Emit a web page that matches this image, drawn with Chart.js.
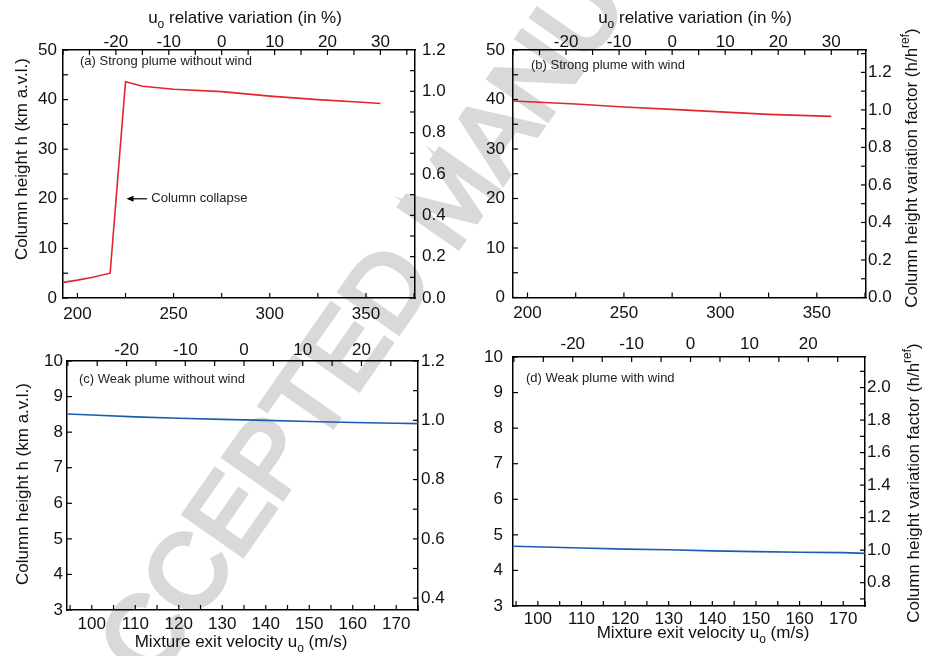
<!DOCTYPE html>
<html>
<head>
<meta charset="utf-8">
<script src="https://cdn.jsdelivr.net/npm/chart.js@4.4.1/dist/chart.umd.min.js"></script>
<style>
  html, body { margin: 0; padding: 0; background: #fff; }
  #wrap { position: relative; width: 925px; height: 656px; overflow: hidden; }
  #wrap canvas { position: absolute; left: 0; top: 0; }
</style>
</head>
<body>
<div id="wrap">
  <canvas id="pa" width="925" height="656"></canvas>
  <canvas id="pb" width="925" height="656"></canvas>
  <canvas id="pc" width="925" height="656"></canvas>
  <canvas id="pd" width="925" height="656"></canvas>
</div>
<script>
// =============== DATA ===============
// (a) strong plume without wind
const uA = [192.5, 200, 208, 217, 225, 234, 250, 275, 300, 325, 350, 357.5];
const hA = [3.15, 3.6, 4.2, 5.0, 43.6, 42.7, 42.1, 41.6, 40.7, 40.0, 39.4, 39.2];
// (b) strong plume with wind
const uB = [192.5, 225, 250, 275, 300, 325, 357.5];
const hB = [39.7, 39.1, 38.5, 38.0, 37.5, 37.0, 36.6];
// (c) weak plume without wind
const uC = [94.5, 100, 110, 120, 130, 140, 150, 160, 170, 175];
const hC = [8.51, 8.48, 8.43, 8.39, 8.36, 8.33, 8.30, 8.27, 8.25, 8.24];
// (d) weak plume with wind
const uD = [94.5, 110, 120, 130, 140, 150, 160, 170, 175];
const hD = [4.68, 4.63, 4.60, 4.58, 4.55, 4.53, 4.51, 4.50, 4.48];

// tick labels
const uTicksStrong = [200, 250, 300, 350];
const uTicksWeak = [100, 110, 120, 130, 140, 150, 160, 170];
const pctTicksStrong = [-20, -10, 0, 10, 20, 30];
const pctTicksWeak = [-20, -10, 0, 10, 20];
const hTicksStrong = [0, 10, 20, 30, 40, 50];
const hTicksWeak = [3, 4, 5, 6, 7, 8, 9, 10];
const fTicksA = [0, 0.2, 0.4, 0.6, 0.8, 1.0, 1.2];
const fTicksB = [0, 0.2, 0.4, 0.6, 0.8, 1.0, 1.2];
const fTicksC = [0.4, 0.6, 0.8, 1.0, 1.2];
const fTicksD = [0.8, 1.0, 1.2, 1.4, 1.6, 1.8, 2.0];

// reference velocity / reference height for the secondary axes
const uRefStrong = 275, uRefWeak = 135;
const hRefA = 41.67, hRefB = 37.9, hRefC = 8.333, hRefD = 4.57;

const FONT = "'Liberation Sans', Arial, Helvetica, sans-serif";
const RED = '#e3262b', BLUE = '#1b5cae';

// ----- rich text (sub / superscripts) -----
function richText(ctx, parts, x, y, rot) {
  ctx.save();
  ctx.translate(x, y);
  ctx.rotate(rot || 0);
  const big = '17px ' + FONT, small = '12px ' + FONT;
  let total = 0;
  parts.forEach(p => { ctx.font = p[1] ? small : big; total += ctx.measureText(p[0]).width; });
  let cx = -total / 2;
  ctx.fillStyle = '#111';
  ctx.textAlign = 'left';
  ctx.textBaseline = 'alphabetic';
  parts.forEach(p => {
    ctx.font = p[1] ? small : big;
    const dy = p[1] === 'sub' ? 5 : p[1] === 'sup' ? -8 : 0;
    ctx.fillText(p[0], cx, dy);
    cx += ctx.measureText(p[0]).width;
  });
  ctx.restore();
}

// ----- watermark, behind everything -----
function drawWatermark(ctx) {
  ctx.save();
  ctx.translate(112, 742);
  ctx.rotate(-55 * Math.PI / 180);
  ctx.font = '104px ' + FONT;
  ctx.fillStyle = '#d9d9d9';
  ctx.strokeStyle = '#d9d9d9';
  ctx.lineWidth = 5;
  ctx.lineJoin = 'miter';
  ctx.textAlign = 'left';
  ctx.textBaseline = 'alphabetic';
  ctx.fillText('ACCEPTED MANUSCRIPT', 0, 0);
  ctx.strokeText('ACCEPTED MANUSCRIPT', 0, 0);
  ctx.restore();
}

const titleTop = [['u'], ['o', 'sub'], [' relative variation (in %)']];
const titleLeft = [['Column height h (km a.v.l.)']];
const titleRight = [['Column height variation factor (h/h'], ['ref', 'sup'], [')']];
const titleBottom = [['Mixture exit velocity u'], ['o', 'sub'], [' (m/s)']];

// per-panel decorations
const decoCfg = {
  pa: { watermark: true, label: '(a) Strong plume without wind', ldx: 17, ldy: 15,
        marks: { x: 25, x2: 5, y: 5, y2: 0.1 },
        titles: [[titleTop, 245, 23, 0], [titleLeft, 26.5, 159, -Math.PI / 2]],
        arrow: { from: 236.2, to: 225.5, h: 20, text: 'Column collapse', tx: 238.4 } },
  pb: { label: '(b) Strong plume with wind', ldx: 18, ldy: 19,
        marks: { x: 25, x2: 5, y: 5, y2: 0.1 },
        titles: [[titleTop, 695, 23, 0], [titleRight, 917, 168, -Math.PI / 2]] },
  pc: { label: '(c) Weak plume without wind', ldx: 12, ldy: 22,
        marks: { x: 5, x2: 5, y: 1, y2: 0.1 },
        titles: [[titleLeft, 28, 484, -Math.PI / 2], [titleBottom, 241, 647, 0]] },
  pd: { label: '(d) Weak plume with wind', ldx: 13, ldy: 25,
        marks: { x: 5, x2: 5, y: 1, y2: 0.1 },
        titles: [[titleRight, 919, 483, -Math.PI / 2], [titleBottom, 703, 638, 0]] }
};

const deco = {
  id: 'deco',
  beforeDraw(chart) {
    const o = decoCfg[chart.canvas.id];
    if (o && o.watermark) drawWatermark(chart.ctx);
  },
  afterDraw(chart) {
    const o = decoCfg[chart.canvas.id];
    if (!o) return;
    const ctx = chart.ctx, a = chart.chartArea;
    // inward tick marks
    ctx.save();
    ctx.strokeStyle = '#000';
    ctx.lineWidth = 1.2;
    Object.keys(o.marks).forEach(id => {
      const s = chart.scales[id], step = o.marks[id];
      const start = Math.ceil(s.min / step - 1e-6);
      for (let k = start; k * step <= s.max + 1e-6; k++) {
        const px = s.getPixelForValue(k * step);
        ctx.beginPath();
        if (id === 'x') { ctx.moveTo(px, a.bottom); ctx.lineTo(px, a.bottom - 5); }
        if (id === 'x2') { ctx.moveTo(px, a.top); ctx.lineTo(px, a.top + 5); }
        if (id === 'y') { ctx.moveTo(a.left, px); ctx.lineTo(a.left + 5, px); }
        if (id === 'y2') { ctx.moveTo(a.right, px); ctx.lineTo(a.right - 5, px); }
        ctx.stroke();
      }
    });
    ctx.restore();
    // panel label
    ctx.save();
    ctx.font = '13px ' + FONT;
    ctx.fillStyle = '#222';
    ctx.textAlign = 'left';
    ctx.textBaseline = 'alphabetic';
    ctx.fillText(o.label, a.left + o.ldx, a.top + o.ldy);
    // annotation arrow
    if (o.arrow) {
      const x = chart.scales.x, y = chart.scales.y;
      const x0 = x.getPixelForValue(o.arrow.from), x1 = x.getPixelForValue(o.arrow.to);
      const py = y.getPixelForValue(o.arrow.h);
      ctx.strokeStyle = '#000';
      ctx.lineWidth = 1.2;
      ctx.beginPath(); ctx.moveTo(x0, py); ctx.lineTo(x1 + 4, py); ctx.stroke();
      ctx.beginPath(); ctx.moveTo(x1, py); ctx.lineTo(x1 + 7, py - 3); ctx.lineTo(x1 + 7, py + 3); ctx.closePath();
      ctx.fillStyle = '#000'; ctx.fill();
      ctx.fillStyle = '#222';
      ctx.textBaseline = 'middle';
      ctx.fillText(o.arrow.text, x.getPixelForValue(o.arrow.tx), py);
    }
    ctx.restore();
    o.titles.forEach(t => richText(ctx, t[0], t[1], t[2], t[3]));
  }
};

// ----- axis helper -----
function axis(position, ticks, fmt, size, pad, min, max) {
  return {
    type: 'linear', position, min, max,
    grid: { display: false, drawTicks: false },
    border: { display: true, color: '#000', width: 1.5 },
    ticks: { font: { family: FONT, size: 17 }, color: '#111', padding: pad,
             autoSkip: false, maxRotation: 0, callback: fmt },
    afterBuildTicks: s => { s.ticks = ticks.map(v => ({ value: v })); },
    afterFit: s => {
      if (position === 'left' || position === 'right') s.width = size; else s.height = size;
    }
  };
}

const fmt0 = v => String(v);
const fmt1 = v => Number(v).toFixed(1);

function makePanel(id, p) {
  const b = p.box; // left, top, right, bottom (page px)
  new Chart(document.getElementById(id), {
    type: 'line',
    data: { datasets: [{
      data: p.u.map((u, i) => ({ x: u, y: p.h[i] })),
      borderColor: p.color, borderWidth: 1.6, pointRadius: 0, fill: false, tension: 0
    }] },
    options: {
      responsive: false, animation: false, events: [],
      layout: { padding: 0 },
      plugins: { legend: { display: false }, tooltip: { enabled: false } },
      scales: {
        x: axis('bottom', p.uTicks, fmt0, 656 - b[3], p.pad[3], p.xMin, p.xMax),
        x2: axis('top', p.pTicks, fmt0, b[1], p.pad[1], (p.xMin / p.uRef - 1) * 100, (p.xMax / p.uRef - 1) * 100),
        y: axis('left', p.hTicks, fmt0, b[0], p.pad[0], p.yMin, p.yMax),
        y2: axis('right', p.fTicks, fmt1, 925 - b[2], p.pad[2], p.yMin / p.hRef, p.yMax / p.hRef)
      }
    },
    plugins: [deco]
  });
}

makePanel('pa', { u: uA, h: hA, color: RED, box: [63, 50, 415, 298], pad: [6, -3, 7, 6],
  xMin: 192.5, xMax: 375.5, yMin: 0, yMax: 50, uRef: uRefStrong, hRef: hRefA,
  uTicks: uTicksStrong, pTicks: pctTicksStrong, hTicks: hTicksStrong, fTicks: fTicksA });
makePanel('pb', { u: uB, h: hB, color: RED, box: [513, 50, 866, 297.5], pad: [8, -3, 2, 6],
  xMin: 192.5, xMax: 375.5, yMin: 0, yMax: 50, uRef: uRefStrong, hRef: hRefB,
  uTicks: uTicksStrong, pTicks: pctTicksStrong, hTicks: hTicksStrong, fTicks: fTicksB });
makePanel('pc', { u: uC, h: hC, color: BLUE, box: [67, 361, 418, 610], pad: [4, 0, 3, 4],
  xMin: 94.3, xMax: 175, yMin: 3, yMax: 10, uRef: uRefWeak, hRef: hRefC,
  uTicks: uTicksWeak, pTicks: pctTicksWeak, hTicks: hTicksWeak, fTicks: fTicksC });
makePanel('pd', { u: uD, h: hD, color: BLUE, box: [513, 357, 865, 606], pad: [10, 2, 2, 3],
  xMin: 94.3, xMax: 175, yMin: 3, yMax: 10, uRef: uRefWeak, hRef: hRefD,
  uTicks: uTicksWeak, pTicks: pctTicksWeak, hTicks: hTicksWeak, fTicks: fTicksD });
</script>
</body>
</html>
